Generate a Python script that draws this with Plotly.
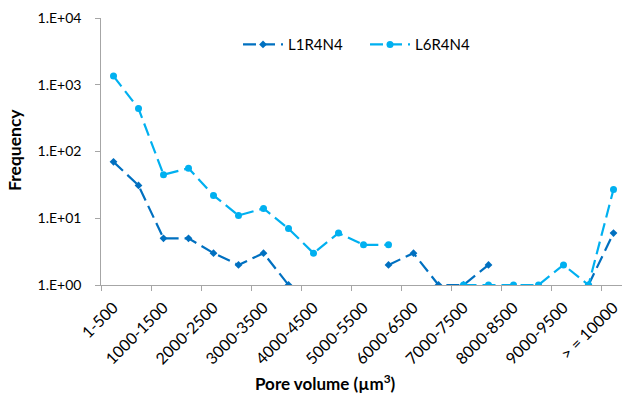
import plotly.graph_objects as go

# Pore volume bins (µm³)
categories = ["1-500", "500-1000", "1000-1500", "1500-2000", "2000-2500", "2500-3000",
              "3000-3500", "3500-4000", "4000-4500", "4500-5000", "5000-5500", "5500-6000",
              "6000-6500", "6500-7000", "7000-7500", "7500-8000", "8000-8500", "8500-9000",
              "9000-9500", "9500-10000", "> = 10000"]

# Frequencies per bin (None = empty bin, not plotted on log scale)
l1r4n4 = [70, 31, 5, 5, 3, 2, 3, 1, None, None, None, 2, 3, 1, 1, 2,
          None, None, None, 1, 6]
l6r4n4 = [1350, 440, 45, 56, 22, 11, 14, 7, 3, 6, 4, 4, None, None, 1, 1,
          1, 1, 2, 1, 27]

y_tickvals = [1, 10, 100, 1000, 10000]
y_ticktext = ["1.E+00", "1.E+01", "1.E+02", "1.E+03", "1.E+04"]

FONT = "Lato"
AXIS_GREY = "#A6A6A6"
DASH = "13px,6px"
PAD = "\u00a0\u00a0\u00a0"  # extra gap between y tick labels and the axis

idx = list(range(len(categories)))
label_idx = idx[::2]

fig = go.Figure()
fig.add_trace(go.Scatter(
    x=idx, y=l1r4n4, name="L1R4N4", mode="lines+markers",
    line=dict(color="#0070C0", width=2.2, dash=DASH),
    marker=dict(symbol="diamond", size=6, color="#0070C0"),
    connectgaps=False,
))
fig.add_trace(go.Scatter(
    x=idx, y=l6r4n4, name="L6R4N4", mode="lines+markers",
    line=dict(color="#00B0F0", width=2.2, dash=DASH),
    marker=dict(symbol="circle", size=7, color="#00B0F0"),
    connectgaps=False,
))
# invisible trace on the secondary x axis so its tick marks are drawn
fig.add_trace(go.Scatter(x=[idx[0]], y=[1], xaxis="x2", mode="markers",
                         marker=dict(opacity=0), showlegend=False, hoverinfo="skip"))

xrange = [-0.5, 20.34]
fig.update_layout(
    width=622, height=394,
    margin=dict(l=101, r=0, t=18, b=109),
    paper_bgcolor="white", plot_bgcolor="white",
    font=dict(family=FONT, size=14, color="#000000"),
    showlegend=True,
    legend=dict(orientation="h", x=0.263, y=0.9, xanchor="left", yanchor="middle",
                font=dict(family=FONT, size=15), bgcolor="rgba(0,0,0,0)",
                itemwidth=40, entrywidth=72),
    xaxis=dict(
        range=xrange, tickmode="array", tickvals=label_idx,
        ticktext=[categories[i] for i in label_idx], tickangle=-45,
        tickfont=dict(family=FONT, size=16), ticklabelstandoff=6,
        ticks="", showline=True, linecolor=AXIS_GREY, linewidth=1,
        showgrid=False, zeroline=False,
    ),
    xaxis2=dict(
        overlaying="x", side="bottom", range=xrange, tickmode="array",
        tickvals=[i - 0.5 for i in label_idx], showticklabels=False,
        ticks="outside", ticklen=5, tickcolor=AXIS_GREY,
        showline=False, showgrid=False, zeroline=False,
    ),
    yaxis=dict(
        type="log", range=[0, 4], tickmode="array", tickvals=y_tickvals,
        ticktext=[t + PAD for t in y_ticktext], ticks="outside", ticklen=5,
        tickcolor=AXIS_GREY,
        showline=True, linecolor=AXIS_GREY, linewidth=1,
        showgrid=False, zeroline=False,
    ),
    annotations=[
        dict(text="<b>Frequency</b>", xref="paper", yref="paper",
             x=-0.165, y=0.506, textangle=-90, showarrow=False,
             font=dict(family=FONT, size=17.5), xanchor="center", yanchor="middle"),
        dict(text="<b>Pore volume (µm<sup>3</sup>)</b>", xref="paper", yref="paper",
             x=0.43, y=-0.367, showarrow=False,
             font=dict(family=FONT, size=17), xanchor="center", yanchor="middle"),
    ],
)

fig.write_html("out.html")
